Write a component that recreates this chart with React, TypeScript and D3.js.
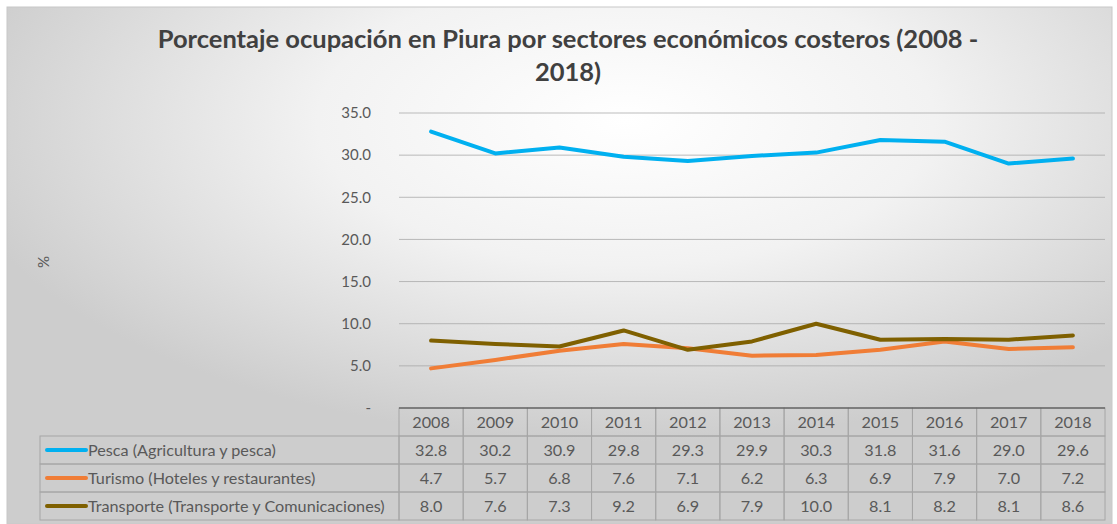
import React from "react";
import * as d3 from "d3";

const years = ["2008", "2009", "2010", "2011", "2012", "2013", "2014", "2015", "2016", "2017", "2018"];
const pesca = [32.8, 30.2, 30.9, 29.8, 29.3, 29.9, 30.3, 31.8, 31.6, 29.0, 29.6];
const turismo = [4.7, 5.7, 6.8, 7.6, 7.1, 6.2, 6.3, 6.9, 7.9, 7.0, 7.2];
const transporte = [8.0, 7.6, 7.3, 9.2, 6.9, 7.9, 10.0, 8.1, 8.2, 8.1, 8.6];
const seriesNames = [
  "Pesca (Agricultura y pesca)",
  "Turismo (Hoteles y restaurantes)",
  "Transporte (Transporte y Comunicaciones)",
];
const seriesColors = ["#00B0F0", "#F07D36", "#7F6000"];
const yTicks = [0, 5, 10, 15, 20, 25, 30, 35];
const titleLines = ["Porcentaje ocupación en Piura por sectores económicos costeros (2008 -", "2018)"];
const yLabel = "%";

const W = 1117;
const H = 524;
const FONT = "Lato, 'Open Sans', sans-serif";

export default function App() {
  const series = [pesca, turismo, transporte];
  const x = d3.scaleBand<string>().domain(years).range([399, 1105]);
  const y = d3.scaleLinear().domain([0, 35]).range([408, 113]);
  const fmt = d3.format(".1f");
  const line = d3
    .line<number>()
    .x((_, i) => (x(years[i]) as number) + x.bandwidth() / 2)
    .y((d) => y(d));

  const rowH = 28;
  const tableTop = y(0);
  const legendLeft = 40;
  const tableRight = x.range()[1];

  return (
    <svg width={W} height={H} style={{ position: "absolute", left: 0, top: 0 }}>
      <defs>
        <radialGradient id="bg" cx="0.56" cy="0.22" r="0.62" fx="0.56" fy="0.22">
          <stop offset="0" stopColor="#ffffff" />
          <stop offset="0.45" stopColor="#f2f2f2" />
          <stop offset="1" stopColor="#cdcdcd" />
        </radialGradient>
      </defs>
      <rect x={0} y={0} width={W} height={H} fill="#ffffff" />
      <rect x={7} y={7} width={W - 12} height={H - 7} fill="url(#bg)" stroke="#c8c8c8" strokeWidth={1} />

      {/* title */}
      {titleLines.map((t, i) => (
        <text
          key={i}
          x={568}
          y={48 + i * 33}
          textAnchor="middle"
          fontFamily={FONT}
          fontWeight="bold"
          fontSize={25.5}
          fill="#404040"
        >
          {t}
        </text>
      ))}

      {/* y label */}
      <text
        transform={`translate(49,262) rotate(-90)`}
        textAnchor="middle"
        fontFamily={FONT}
        fontSize={15}
        fill="#595959"
      >
        {yLabel}
      </text>

      {/* gridlines & y tick labels */}
      {yTicks.map((t) => (
        <g key={t}>
          {t > 0 && (
            <line x1={399} x2={1105} y1={y(t)} y2={y(t)} stroke="#a6a6a6" strokeWidth={1} opacity={0.75} />
          )}
          <text
            x={371}
            y={y(t)}
            dy="0.35em"
            textAnchor="end"
            fontFamily={FONT}
            fontSize={15}
            fill="#595959"
          >
            {t === 0 ? "-" : fmt(t)}
          </text>
        </g>
      ))}

      {/* lines */}
      {series.map((s, i) => (
        <path
          key={i}
          d={line(s) || ""}
          fill="none"
          stroke={seriesColors[i]}
          strokeWidth={4}
          strokeLinejoin="round"
          strokeLinecap="round"
        />
      ))}

      {/* data table */}
      <g fontFamily={FONT} fontSize={16.2} fill="#595959">
        {years.map((yr) => (
          <g key={yr}>
            <rect
              x={x(yr) as number}
              y={tableTop}
              width={x.bandwidth()}
              height={rowH}
              fill="none"
              stroke="#a6a6a6"
            />
            <text
              x={(x(yr) as number) + x.bandwidth() / 2}
              y={tableTop + rowH / 2}
              dy="0.35em"
              textAnchor="middle"
            >
              {yr}
            </text>
          </g>
        ))}
        {series.map((s, i) => {
          const top = tableTop + rowH * (i + 1);
          return (
            <g key={i}>
              <rect x={legendLeft} y={top} width={399 - legendLeft} height={rowH} fill="none" stroke="#a6a6a6" />
              <line
                x1={legendLeft + 7}
                x2={legendLeft + 46}
                y1={top + rowH / 2}
                y2={top + rowH / 2}
                stroke={seriesColors[i]}
                strokeWidth={4}
                strokeLinecap="round"
              />
              <text x={legendLeft + 48} y={top + rowH / 2} dy="0.35em">
                {seriesNames[i]}
              </text>
              {s.map((v, j) => (
                <g key={j}>
                  <rect
                    x={x(years[j]) as number}
                    y={top}
                    width={x.bandwidth()}
                    height={rowH}
                    fill="none"
                    stroke="#a6a6a6"
                  />
                  <text
                    x={(x(years[j]) as number) + x.bandwidth() / 2}
                    y={top + rowH / 2}
                    dy="0.35em"
                    textAnchor="middle"
                  >
                    {fmt(v)}
                  </text>
                </g>
              ))}
            </g>
          );
        })}
        <line x1={399} x2={tableRight} y1={tableTop} y2={tableTop} stroke="#404040" strokeWidth={1.2} />
      </g>
    </svg>
  );
}
